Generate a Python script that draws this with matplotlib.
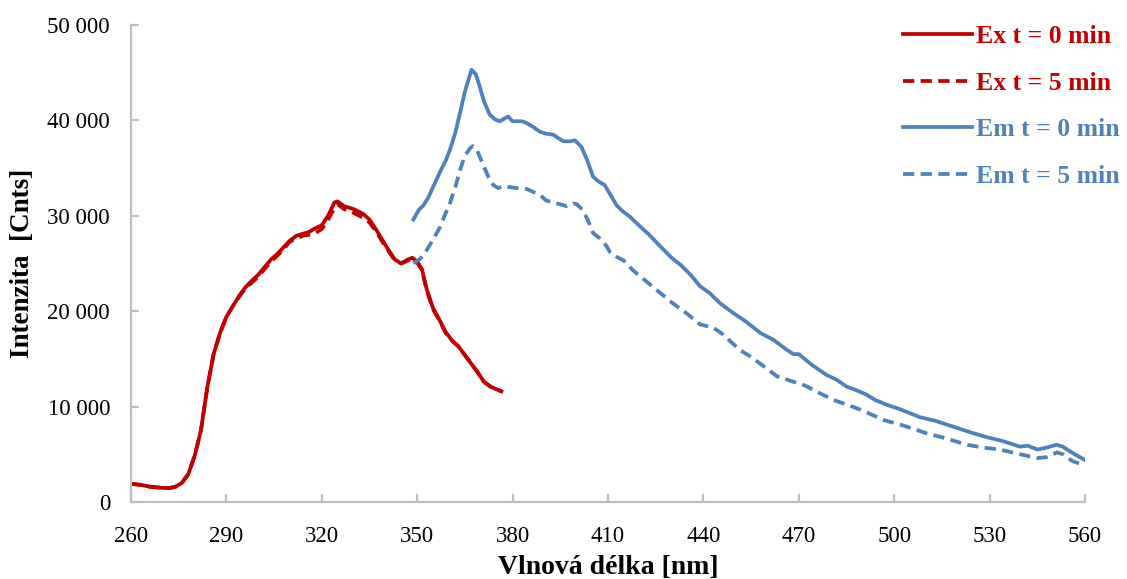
import matplotlib
matplotlib.use("Agg")
import matplotlib.pyplot as plt
from matplotlib.ticker import FuncFormatter, MultipleLocator

# ---- data ----
ex0_x = [260, 263, 266, 269, 272, 274, 276, 278, 280, 282, 284, 286, 288, 290, 292, 294, 296, 298,
         300, 302, 304, 306, 308, 310, 312, 314, 316, 318, 320, 322, 324, 325, 327, 330, 333, 335,
         337, 339, 341, 343, 345, 347, 348.5, 350, 351.5, 353, 355, 357, 359, 361, 363, 365, 367,
         369, 371, 373, 375, 376.5]
ex0_y = [1900, 1800, 1600, 1500, 1450, 1600, 2000, 2900, 4800, 7500, 12000, 15500, 17700, 19400,
         20500, 21600, 22500, 23200, 23800, 24600, 25400, 26000, 26700, 27400, 27900, 28100, 28300,
         28700, 29000, 30000, 31400, 31500, 31000, 30700, 30200, 29600, 28600, 27500, 26400, 25400,
         25000, 25400, 25600, 25200, 24400, 22300, 20300, 19100, 17800, 16900, 16300, 15400, 14500,
         13600, 12600, 12100, 11800, 11600]

ex5_x = ex0_x
ex5_y = [1900, 1800, 1600, 1500, 1450, 1600, 2000, 2900, 4800, 7500, 12000, 15500, 17700, 19400,
         20500, 21500, 22400, 23000, 23600, 24400, 25200, 25800, 26500, 27300, 27600, 27900, 28000,
         28200, 28600, 29600, 30800, 31200, 30700, 30300, 29800, 29300, 28400, 27300, 26300, 25300,
         25000, 25300, 25500, 25100, 24300, 22200, 20200, 19000, 17700, 16900, 16300, 15400, 14500,
         13600, 12600, 12100, 11800, 11600]

em0_x = [348.8, 350.5, 352, 353.5, 355, 357.2, 359, 360.3, 362, 363.5, 365, 367.1, 368.5, 369.7,
         371, 372.8, 374.5, 376, 377.5, 378.6, 380, 381.3, 383, 384.5, 386.5, 388.6, 390.5, 392.8,
         394.5, 396, 398, 399.6, 401.7, 403.5, 405.3, 407, 409, 410.6, 412.7, 414.5, 416.9, 420,
         423, 426.4, 430, 433, 436, 439, 442, 445, 449.4, 453, 458, 462, 466, 468.3, 470, 474,
         478.8, 482, 485, 488.2, 491, 494, 497.6, 502, 508, 513, 518.5, 524, 529, 534, 539.6, 542,
         545, 548, 551, 553, 556.3, 560]
em0_y = [29600, 30600, 31100, 31900, 33000, 34600, 35800, 36900, 38700, 40800, 43000, 45300, 44800,
         43500, 42000, 40600, 40100, 39900, 40200, 40400, 39900, 39900, 39900, 39700, 39300, 38800,
         38600, 38500, 38100, 37800, 37800, 37900, 37200, 35800, 34100, 33600, 33200, 32300, 31100,
         30500, 29900, 28900, 28000, 26800, 25600, 24800, 23800, 22600, 21900, 20900, 19800, 19000,
         17700, 17000, 16000, 15500, 15500, 14400, 13300, 12800, 12100, 11700, 11300, 10700, 10200,
         9700, 8900, 8500, 7900, 7300, 6800, 6400, 5800, 5900, 5500, 5700, 6000, 5800, 5100, 4400]

em5_x = [348.8, 351, 353, 355, 357.2, 358.5, 360.3, 362, 363.5, 365, 366.7, 367.5, 368.8, 370.8,
         372.5, 374, 375.5, 377.2, 379, 381.3, 384.5, 386.5, 388.6, 390.5, 392.8, 395, 397, 399,
         400.2, 402.1, 404, 405.3, 407.5, 409.6, 410.6, 412.7, 415, 417.8, 420, 425, 430.5, 435,
         439, 443, 446, 451.6, 455, 459.9, 463, 468.3, 472, 476, 480.9, 486, 490, 496.6, 503,
         510.2, 516, 522.8, 528, 533.3, 537, 541, 544.9, 548, 551.2, 553, 556, 560]
em5_y = [25000, 25500, 26400, 27500, 28800, 29900, 31300, 33000, 34800, 36300, 37100, 37300, 36900,
         35300, 34000, 33200, 32900, 33100, 33000, 32900, 32800, 32500, 32200, 31600, 31400, 31200,
         31000, 31300, 31200, 30600, 29300, 28200, 27600, 26800, 26200, 25700, 25300, 24300, 23700,
         22300, 20800, 19700, 18600, 18300, 17600, 15900, 15200, 14000, 13200, 12600, 12200, 11500,
         10700, 10100, 9600, 8600, 8000, 7200, 6700, 6000, 5700, 5500, 5200, 4900, 4600, 4700, 5200,
         5000, 4300, 3800]

labels = ["Ex t = 0 min", "Ex t = 5 min", "Em t = 0 min", "Em t = 5 min"]
x_ticks = [260, 290, 320, 350, 380, 410, 440, 470, 500, 530, 560]

RED = "#C00000"
BLUE = "#4F81BD"

plt.rcParams['font.family'] = ['Liberation Serif', 'DejaVu Serif']

fig = plt.figure(figsize=(11.27, 5.79), dpi=100)
ax = fig.add_axes([0.1162, 0.133, 0.8465, 0.824])

lw = 2.7
ax.plot(ex0_x, ex0_y, color=RED, lw=lw, label=labels[0])
ax.plot(ex5_x, ex5_y, color=RED, lw=lw, dashes=(3.0, 1.7), label=labels[1])
ax.plot(em0_x, em0_y, color=BLUE, lw=lw, label=labels[2])
ax.plot(em5_x, em5_y, color=BLUE, lw=lw, dashes=(3.0, 1.7), label=labels[3])

ax.set_xlim(260, 560)
ax.set_ylim(0, 50000)
ax.set_xticks(x_ticks)
ax.yaxis.set_major_locator(MultipleLocator(10000))
ax.yaxis.set_major_formatter(FuncFormatter(lambda v, p: f"{int(v):,}".replace(",", " ")))

for s in ["top", "right"]:
    ax.spines[s].set_visible(False)
for s in ["left", "bottom"]:
    ax.spines[s].set_color("#BFBFBF")
    ax.spines[s].set_linewidth(1.6)
ax.tick_params(direction="in", length=6, width=1.6, color="#BFBFBF", labelsize=16.5,
               labelcolor="black")
ax.tick_params(axis="x", pad=17)
ax.tick_params(axis="y", pad=15)

ax.set_xlabel("Vlnová délka [nm]", fontsize=20, fontweight="bold", labelpad=6)
ax.set_ylabel("Intenzita  [Cnts]", fontsize=19.5, fontweight="bold", labelpad=9)

leg = fig.legend(handles=ax.get_lines(), labels=labels,
                 loc="upper left", bbox_to_anchor=(903 / 1127, 1 - 25 / 579),
                 bbox_transform=fig.transFigure, frameon=False,
                 labelcolor="linecolor", prop={"weight": "bold", "size": 18.5},
                 handlelength=2.68, handletextpad=0.18, labelspacing=0.92,
                 borderpad=0, borderaxespad=0)

fig.savefig("out.png", dpi=100)
